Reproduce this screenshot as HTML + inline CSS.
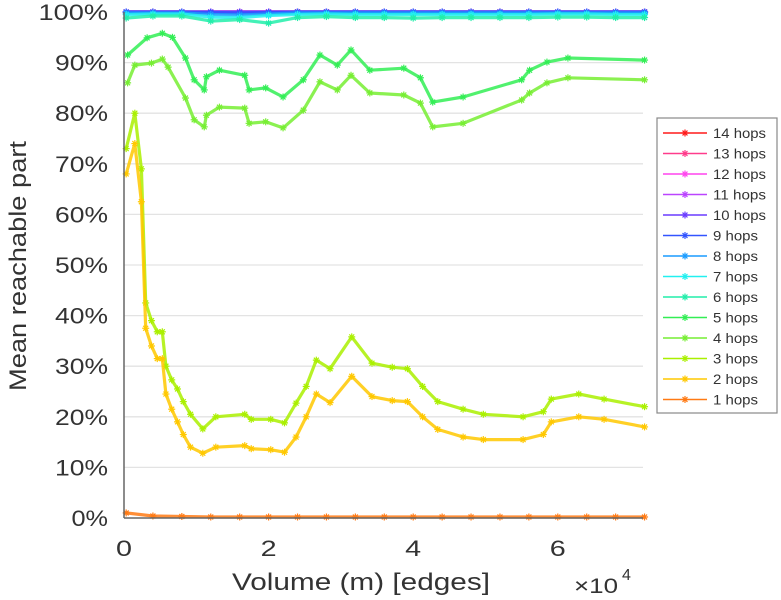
<!DOCTYPE html>
<html><head><meta charset="utf-8"><style>
body{margin:0;background:#fff;}
svg{display:block;font-family:"Liberation Sans",sans-serif;}
</style></head><body>
<svg id="chart" width="781" height="600" viewBox="0 0 781 600" xmlns="http://www.w3.org/2000/svg">
<g id="grid"></g>
<g id="series"></g>
<g id="axes"></g>
<text x="0" y="0" transform="translate(26,266) rotate(-90)" text-anchor="middle" font-size="24" textLength="250" lengthAdjust="spacingAndGlyphs" fill="#333">Mean reachable part</text>
<text x="361" y="590" text-anchor="middle" font-size="24" textLength="258" lengthAdjust="spacingAndGlyphs" fill="#333">Volume (m) [edges]</text>
<text x="574" y="593" font-size="21" fill="#333"><tspan textLength="44" lengthAdjust="spacingAndGlyphs">×10</tspan><tspan dx="4" dy="-13" font-size="16">4</tspan></text>
<g id="legend"></g>
</svg>
<script>
const xTicks=[0,2,4,6];
const xTickLabels=["0","2","4","6"];
const yTicks=[0,10,20,30,40,50,60,70,80,90,100];
const yTickLabels=["0%","10%","20%","30%","40%","50%","60%","70%","80%","90%","100%"];
const seriesNames=["14 hops","13 hops","12 hops","11 hops","10 hops","9 hops","8 hops","7 hops","6 hops","5 hops","4 hops","3 hops","2 hops","1 hops"];
const seriesColors=["#ff1a1a","#ff3c8c","#ff44ee","#bb44ff","#6a3cff","#3355ff","#1a9cff","#22f0f0","#22eeaa","#33ee55","#77ee33","#aaf000","#ffc800","#ff7a14"];
const flatX=[0.03,0.4,0.8,1.2,1.6,2.0,2.4,2.8,3.2,3.6,4.0,4.4,4.8,5.2,5.6,6.0,6.4,6.8,7.2];
const s14=[100,100,100,100,100,100,100,100,100,100,100,100,100,100,100,100,100,100,100];
const s13=[100,100,100,100,100,100,100,100,100,100,100,100,100,100,100,100,100,100,100];
const s12=[100,100,100,100,100,100,100,100,100,100,100,100,100,100,100,100,100,100,100];
const s11=[100,100,100,100,100,100,100,100,100,100,100,100,100,100,100,100,100,100,100];
const s10=[100,100,100,100,100,100,100,100,100,100,100,100,100,100,100,100,100,100,100];
const s9=[100,100,100,99.9,99.8,99.9,100,100,100,100,100,100,100,100,100,100,100,100,100];
const s8=[99.8,99.8,99.8,99.5,99.4,99.6,99.8,99.8,99.8,99.8,99.8,99.8,99.8,99.8,99.8,99.8,99.8,99.8,99.8];
const s7=[99.5,99.6,99.6,99.0,98.9,99.3,99.5,99.6,99.5,99.5,99.5,99.5,99.5,99.5,99.5,99.6,99.6,99.5,99.5];
const s6=[98.8,99.2,99.2,98.2,98.5,97.8,98.9,99.1,98.9,98.9,98.8,98.9,98.9,98.9,98.9,99.0,99.0,98.9,98.9];
const x5=[0.05,0.32,0.53,0.67,0.85,0.97,1.11,1.14,1.32,1.67,1.73,1.96,2.2,2.48,2.71,2.95,3.14,3.4,3.87,4.1,4.27,4.69,5.5,5.61,5.85,6.14,7.2];
const s5=[91.5,94.9,95.8,95,90.9,86.6,84.6,87.2,88.5,87.5,84.6,85,83.2,86.6,91.5,89.5,92.5,88.5,88.9,87,82.2,83.2,86.6,88.5,90.1,90.9,90.5];
const x4=[0.05,0.15,0.38,0.53,0.61,0.85,0.97,1.11,1.14,1.32,1.67,1.73,1.96,2.2,2.48,2.71,2.95,3.14,3.4,3.87,4.1,4.27,4.69,5.5,5.61,5.85,6.14,7.2];
const s4=[86,89.5,89.9,90.7,89.1,83,78.7,77.3,79.6,81.2,81,78,78.3,77.1,80.6,86.2,84.6,87.5,84,83.6,82,77.3,78,82.6,84,86,87,86.6];
const x3=[0.03,0.15,0.24,0.3,0.38,0.46,0.53,0.58,0.66,0.74,0.82,0.92,1.09,1.27,1.67,1.76,2.03,2.22,2.38,2.52,2.66,2.85,3.15,3.43,3.71,3.92,4.13,4.34,4.69,4.97,5.52,5.8,5.91,6.29,6.64,7.2];
const s3=[73,80,69,42.5,39,36.8,36.8,30,27.3,25.5,23,20.5,17.6,20,20.5,19.5,19.5,18.8,22.7,26,31.2,29.5,35.8,30.6,29.8,29.5,26,23,21.5,20.5,20,21,23.5,24.5,23.5,22];
const s2=[68,74,62.5,37.5,34,31.5,31.5,24.5,21.5,19,16.5,14,12.8,14,14.3,13.7,13.5,13,16,20,24.5,22.8,28,24,23.2,23,20,17.5,16,15.5,15.5,16.5,19,20,19.5,18];
const s1=[1.0,0.4,0.3,0.2,0.2,0.2,0.2,0.2,0.2,0.2,0.2,0.2,0.2,0.2,0.2,0.2,0.2,0.2,0.2];
const seriesX=[flatX,flatX,flatX,flatX,flatX,flatX,flatX,flatX,flatX,x5,x4,x3,x3,flatX];
const seriesY=[s14,s13,s12,s11,s10,s9,s8,s7,s6,s5,s4,s3,s2,s1];

const NS="http://www.w3.org/2000/svg";
const X0=124,XR=643,Y0=518,YT=12,PX=72.3;
function sx(v){return X0+v*PX;}
function sy(v){return Y0-(Y0-YT)*v/100;}
function mk(tag,attrs,parent){const e=document.createElementNS(NS,tag);for(const k in attrs)e.setAttribute(k,attrs[k]);parent.appendChild(e);return e;}
function star(g,x,y,c,r){
  for(let a=0;a<4;a++){const t=a*Math.PI/4;
    const l=mk('line',{x1:x-r*Math.cos(t),y1:y-r*Math.sin(t),x2:x+r*Math.cos(t),y2:y+r*Math.sin(t),stroke:c,'stroke-width':1.2},g);
    
    }
}
const grid=document.getElementById('grid');
yTicks.forEach((t,i)=>{
  if(t>0){const l=mk('line',{x1:X0,x2:XR,y1:sy(t),y2:sy(t),stroke:'#e3e3e3','stroke-width':1.3},grid);
  
  }
  const lab=yTickLabels[i];
  const w=(lab.length-1)*16.5+20;
  const tx=mk('text',{x:108,y:sy(t)+8,'text-anchor':'end','font-size':22,fill:'#333',textLength:w,lengthAdjust:'spacingAndGlyphs'},grid);
  tx.textContent=lab;
  
  
});
const axes=document.getElementById('axes');
const ya=mk('line',{x1:X0,x2:X0,y1:YT,y2:Y0,stroke:'#666','stroke-width':1.5},axes);


const xa=mk('line',{x1:X0,x2:XR,y1:Y0,y2:Y0,stroke:'#666','stroke-width':1.5},axes);


xTicks.forEach((t,i)=>{
  const tx=mk('text',{x:sx(t),y:556,'text-anchor':'middle','font-size':22,fill:'#333',textLength:16,lengthAdjust:'spacingAndGlyphs'},axes);
  tx.textContent=xTickLabels[i];
  
  
});
const sg=document.getElementById('series');
for(let i=0;i<seriesNames.length;i++){
  const g=mk('g',{},sg);
  
  
  const xs=seriesX[i],ys=seriesY[i],c=seriesColors[i];
  const pts=xs.map((x,j)=>sx(x).toFixed(1)+','+sy(ys[j]).toFixed(1)).join(' ');
  const pl=mk('polyline',{points:pts,fill:'none',stroke:c,'stroke-width':3.2,'stroke-linejoin':'round',opacity:0.85},g);
  
  
  xs.forEach((x,j)=>star(g,sx(x),sy(ys[j]),c,3.5));
}
const lg=document.getElementById('legend');
const box=mk('rect',{x:657,y:118,width:120,height:295,fill:'#fff',stroke:'#888','stroke-width':1.2},lg);


seriesNames.forEach((n,i)=>{
  const y=133+i*20.5;
  const g=mk('g',{},lg);
  
  
  mk('line',{x1:663,x2:707,y1:y,y2:y,stroke:seriesColors[i],'stroke-width':1.5},g);
  star(g,685,y,seriesColors[i],3.5);
  const t=mk('text',{x:713,y:y+5,'font-size':13.5,fill:'#333',textLength:(n.length>6?53:45),lengthAdjust:'spacingAndGlyphs'},g);
  t.textContent=n;
});
</script>
</body></html>
